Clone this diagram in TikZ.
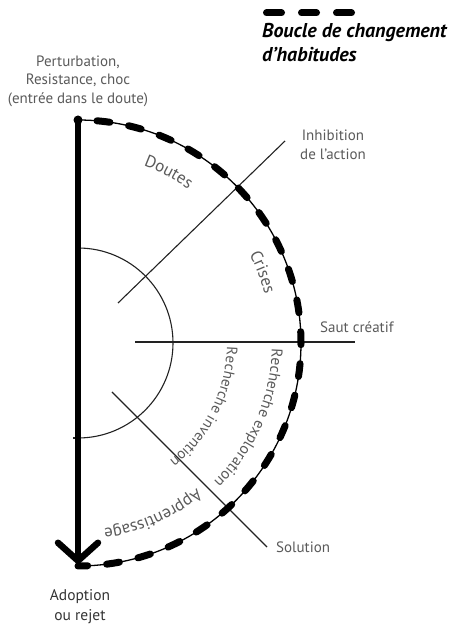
\documentclass[tikz,border=0pt]{standalone}
\usepackage{fontspec}
\setmainfont{PT Sans}
\usetikzlibrary{decorations.text,arrows.meta,calc}
\definecolor{txtgray}{HTML}{5A5A5A}
\definecolor{linegray}{HTML}{222222}
\begin{document}
\begin{tikzpicture}[x=1pt,y=1pt,
  lbl/.style={text=txtgray, font=\fontsize{15}{18.5}\selectfont, inner sep=0pt},
  darklbl/.style={text=black!80, font=\fontsize{15.5}{20}\selectfont, inner sep=0pt},
  ray/.style={draw=linegray, line width=1.1pt},
  arctext/.style={decorate, decoration={text along path, text color=txtgray}},
  bigdash/.style={line width=7pt, line cap=round, dash pattern=on 13pt off 19pt, dash phase=13pt}
  ]
\useasboundingbox (0,0) rectangle (458,626);
\coordinate (O) at (78,283);
\coordinate (top) at ($(O)+(90:223)$);
\coordinate (bot) at ($(O)+(-90:223)$);
\coordinate (stop) at ($(O)+(90:95)$);
\coordinate (sbot) at ($(O)+(-90:95)$);

% legend
\coordinate (lg1) at (266.5,613);
\coordinate (lg2) at (351.5,613);
\draw[line width=7pt, line cap=round, dash pattern=on 15pt off 20pt] (lg1) -- (lg2);
\node[anchor=north west, align=left, inner sep=0pt, font=\fontsize{20}{24}\bfseries\itshape\selectfont] (legend) at (262,603) {Boucle de changement\\d'habitudes};

% small arc
\draw[ray] (stop) arc[start angle=90, end angle=-90, radius=95];
\draw[ray] (sbot) -- ++(-5,0);

% rays
\coordinate (i1) at (118,323); \coordinate (i2) at (285,485);
\coordinate (s1) at (135,284); \coordinate (s2) at (355,284);
\coordinate (l1) at (112,234); \coordinate (l2) at (267,79);
\draw[ray] (i1) -- (i2);
\draw[ray] (s1) -- (s2);
\draw[ray] (l1) -- (l2);

% big arc with dashes
\draw[line width=1.3pt] (top) arc[start angle=90, end angle=-90, radius=223];
\draw[bigdash] (top) arc[start angle=90, end angle=-90, radius=223];

% vertical arrow
\draw[line width=6.5pt, -{Straight Barb[length=18pt, width=40pt, line width=6.5pt, round]}] (top) -- ($(bot)+(0,2)$);
\fill (top) circle (4.5pt);

% curved labels
\path[arctext, decoration={text align=center, text={|\fontsize{17}{17}\selectfont|Doutes}}] ($(O)+(74:189)$) arc[start angle=74, end angle=50, radius=189];
\path[arctext, decoration={text align=center, text={|\fontsize{17}{17}\selectfont|Crises}}] ($(O)+(32:193)$) arc[start angle=32, end angle=10, radius=193];
\path[arctext, decoration={text align=left, text={|\fontsize{15.5}{15.5}\selectfont|Recherche exploration}}] ($(O)+(-1.5:194)$) arc[start angle=-1.5, end angle=-60, radius=194];
\path[arctext, decoration={text align=left, text={|\fontsize{15}{15}\selectfont|Recherche invention}}] ($(O)+(-1.5:149)$) arc[start angle=-1.5, end angle=-70, radius=149];
\path[arctext, decoration={text align=center, text={|\fontsize{17}{17}\selectfont|Apprentissage}}] ($(O)+(-46:188)$) arc[start angle=-46, end angle=-87, radius=188];

% labels
\node[lbl, align=center] (pert) at (78,545) {Perturbation,\\Resistance, choc\\(entrée dans le doute)};
\node[lbl, align=center] (inhib) at (333,481) {Inhibition\\de l'action};
\node[lbl, anchor=west] (saut) at (320,299) {Saut créatif};
\node[lbl, anchor=west] (sol) at (276,79) {Solution};
\node[darklbl, align=center] (adopt) at (80,19) {Adoption\\ou rejet};
\end{tikzpicture}
\end{document}
